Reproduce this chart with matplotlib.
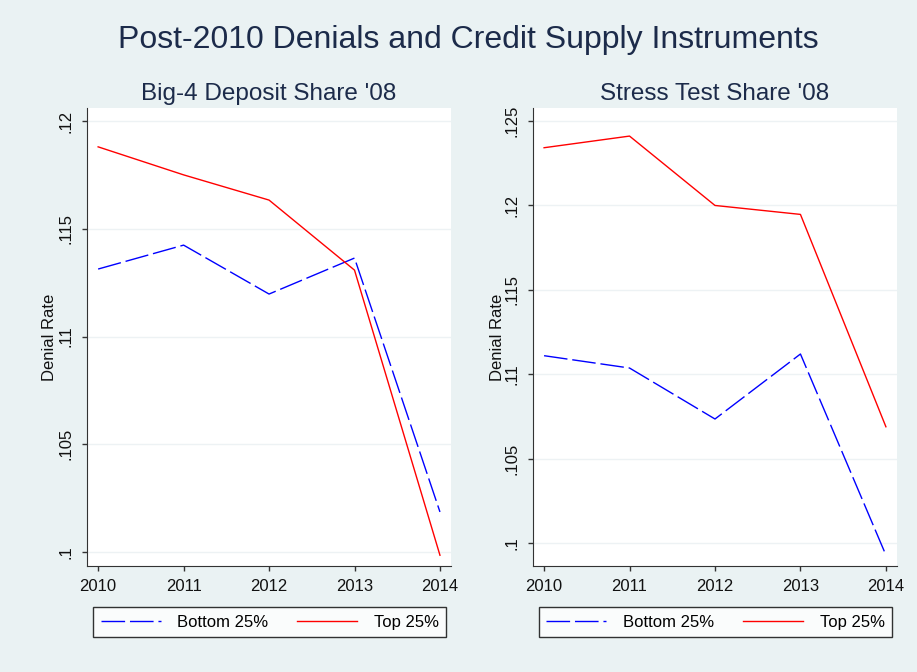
import numpy as np
import matplotlib
matplotlib.use("Agg")
import matplotlib.pyplot as plt

plt.rcParams['font.family'] = ['Liberation Sans', 'DejaVu Sans']

years = [2010, 2011, 2012, 2013, 2014]

# Big-4 deposit share panel
big4_bottom = [0.11313, 0.11424, 0.11197, 0.11364, 0.10186]
big4_top = [0.1188, 0.1175, 0.11633, 0.11308, 0.09985]

# stress test share panel
stress_bottom = [0.11110, 0.11037, 0.10735, 0.11120, 0.09929]
stress_top = [0.12342, 0.12411, 0.12000, 0.11947, 0.10689]

left_ticks = [0.1, 0.105, 0.11, 0.115, 0.12]
left_labels = ['.1', '.105', '.11', '.115', '.12']
right_ticks = [0.1, 0.105, 0.11, 0.115, 0.12, 0.125]
right_labels = ['.1', '.105', '.11', '.115', '.12', '.125']

bg = '#EAF2F3'
fig = plt.figure(figsize=(9.17, 6.72), dpi=100, facecolor=bg)

fig.text(0.5105, 0.941, 'Post-2010 Denials and Credit Supply Instruments',
         ha='center', va='center', fontsize=23, color='#1c2b4a')

panels = [
    (0.0949, 'Big-4 Deposit Share \'08', big4_bottom, big4_top,
     left_ticks, left_labels, (0.09935, 0.1206), -0.082),
    (0.5812, 'Stress Test Share \'08', stress_bottom, stress_top,
     right_ticks, right_labels, (0.09864, 0.12577), -0.077),
]

for x0, title, bot, top, ticks, labels, ylim, labx in panels:
    ax = fig.add_axes([x0, 0.1577, 0.397, 0.6815])
    ax.set_facecolor('white')
    ax.plot(years, bot, color='blue', lw=1.0, dashes=(17, 3.5), label='Bottom 25%')
    ax.plot(years, top, color='red', lw=1.0, label='Top 25%')
    ax.set_xlim(2009.87, 2014.13)
    ax.set_ylim(*ylim)
    ax.set_xticks(years)
    ax.set_yticks(ticks)
    ax.set_yticklabels(labels, rotation=90, va='center')
    ax.tick_params(axis='both', labelsize=12, length=3.6, width=1, pad=6,
                   color='#333333', labelcolor='#111111', direction='out')
    ax.grid(axis='y', color='#EDF2F4', lw=1)
    ax.set_axisbelow(True)
    for s in ['top', 'right']:
        ax.spines[s].set_visible(False)
    for s in ['left', 'bottom']:
        ax.spines[s].set_color('#333333')
    ax.set_ylabel('Denial Rate', fontsize=12, color='#111111')
    ax.yaxis.set_label_coords(labx, 0.5)
    ax.set_title(title, fontsize=17.5, color='#1c2b4a', pad=6)
    leg = ax.legend(loc='upper center', bbox_to_anchor=(0.0165, -0.0895, 0.97, 0.0),
                    mode='expand', ncol=2, fontsize=12, frameon=True, fancybox=False,
                    handlelength=3.6, handletextpad=1.0, borderaxespad=0,
                    borderpad=0.45, columnspacing=2)
    leg.get_frame().set_edgecolor('black')
    leg.get_frame().set_linewidth(1)

plt.savefig('out.png', dpi=100, facecolor=bg)
